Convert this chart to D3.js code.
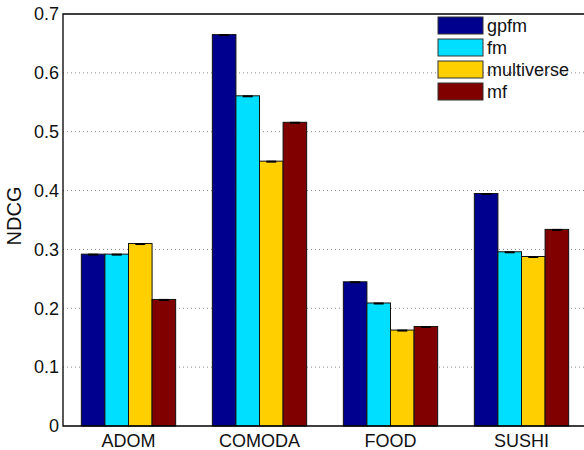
<!DOCTYPE html>
<html>
<head>
<meta charset="utf-8">
<script src="https://cdn.jsdelivr.net/npm/d3@7"></script>
<style>
  body { margin: 0; background: #fff; }
  svg { display: block; font-family: "Liberation Sans", Arial, sans-serif; }
</style>
</head>
<body>
<div id="chart"></div>
<script>
const categories = ['ADOM', 'COMODA', 'FOOD', 'SUSHI'];
const seriesNames = ['gpfm', 'fm', 'multiverse', 'mf'];
const seriesColors = ['#00008F', '#00DFFF', '#FFCF00', '#800000'];
const gpfm = [0.292, 0.665, 0.245, 0.395];
const fm = [0.292, 0.561, 0.209, 0.296];
const multiverse = [0.310, 0.450, 0.163, 0.288];
const mf = [0.215, 0.516, 0.169, 0.334];
const yTicks = [0, 0.1, 0.2, 0.3, 0.4, 0.5, 0.6, 0.7];

const values = [gpfm, fm, multiverse, mf];

const W = 584, H = 450;
const plot = { left: 63, top: 14, bottom: 426, right: 587 };

const svg = d3.select('#chart').append('svg')
  .attr('width', W)
  .attr('height', H);

// --- Scales ---
const x = d3.scaleLinear().domain([0.5, categories.length + 0.5]).range([plot.left, plot.right]);
const groupW = (x(2) - x(1)) * 0.72;
const x1 = d3.scaleBand().domain(seriesNames).range([-groupW / 2, groupW / 2]);
const y = d3.scaleLinear().domain([0, 0.7]).range([plot.bottom, plot.top]);

// --- Gridlines ---
svg.append('g')
  .selectAll('line')
  .data(yTicks.filter(d => d > 0 && d < 0.7))
  .enter().append('line')
  .attr('x1', plot.left).attr('x2', plot.right)
  .attr('y1', d => y(d)).attr('y2', d => y(d))
  .attr('stroke', '#8a8a8a')
  .attr('stroke-width', 1)
  .attr('stroke-dasharray', '1,3');

// --- Bars ---
const rows = [];
categories.forEach((c, i) => {
  seriesNames.forEach((s, j) => {
    rows.push({ cat: i + 1, series: s, color: seriesColors[j], value: values[j][i] });
  });
});

svg.append('g')
  .selectAll('rect')
  .data(rows)
  .enter().append('rect')
  .attr('x', d => x(d.cat) + x1(d.series))
  .attr('y', d => y(d.value))
  .attr('width', x1.bandwidth())
  .attr('height', d => y(0) - y(d.value))
  .attr('fill', d => d.color)
  .attr('stroke', '#111')
  .attr('stroke-width', 1);

// tiny error caps
svg.append('g')
  .selectAll('line')
  .data(rows)
  .enter().append('line')
  .attr('x1', d => x(d.cat) + x1(d.series) + x1.bandwidth() / 2 - 5)
  .attr('x2', d => x(d.cat) + x1(d.series) + x1.bandwidth() / 2 + 5)
  .attr('y1', d => y(d.value) + 0.5)
  .attr('y2', d => y(d.value) + 0.5)
  .attr('stroke', '#000')
  .attr('stroke-width', 2);

// --- Axes frame ---
svg.append('path')
  .attr('d', `M${plot.right},${plot.top}H${plot.left}V${plot.bottom}H${plot.right}`)
  .attr('fill', 'none')
  .attr('stroke', '#000')
  .attr('stroke-width', 1.3);

// y tick labels
svg.append('g')
  .selectAll('text')
  .data(yTicks)
  .enter().append('text')
  .attr('x', plot.left - 4)
  .attr('y', d => y(d))
  .attr('dy', '0.35em')
  .attr('text-anchor', 'end')
  .attr('font-size', 18)
  .attr('fill', '#111')
  .text(d => d3.format('.1~f')(d));

// x tick labels
svg.append('g')
  .selectAll('text')
  .data(categories)
  .enter().append('text')
  .attr('x', (d, i) => x(i + 1))
  .attr('y', 447)
  .attr('text-anchor', 'middle')
  .attr('font-size', 18)
  .attr('fill', '#111')
  .text(d => d);

// y axis title
svg.append('text')
  .attr('transform', `translate(21,${(plot.top + plot.bottom) / 2 - 4}) rotate(-90)`)
  .attr('text-anchor', 'middle')
  .attr('font-size', 20)
  .attr('fill', '#111')
  .text('NDCG');

// --- Legend ---
const legend = svg.append('g').attr('transform', 'translate(438,17)');
const item = legend.selectAll('g')
  .data(seriesNames)
  .enter().append('g')
  .attr('transform', (d, i) => `translate(0,${i * 22})`);

item.append('rect')
  .attr('width', 45)
  .attr('height', 17)
  .attr('fill', (d, i) => seriesColors[i])
  .attr('stroke', '#333')
  .attr('stroke-width', 1);

item.append('text')
  .attr('x', 49)
  .attr('y', 8.5)
  .attr('dy', '0.35em')
  .attr('font-size', 18)
  .attr('fill', '#111')
  .text(d => d);
</script>
</body>
</html>
